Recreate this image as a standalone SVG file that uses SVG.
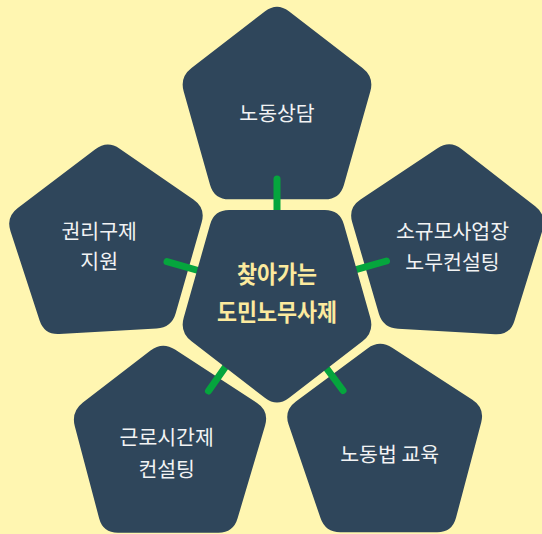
<svg xmlns="http://www.w3.org/2000/svg" width="542" height="534" viewBox="0 0 542 534">
<style>
.pent{fill:#2f465b}
.lbl{font-family:"Noto Sans CJK KR","Noto Sans",sans-serif;font-size:20.5px;fill:#f2f3f4;text-anchor:middle}
.ctr{font-family:"Noto Sans CJK KR","Noto Sans",sans-serif;font-size:24px;font-weight:700;fill:#fcea9e;text-anchor:middle}
.conn{stroke:#05a53d;stroke-width:7;stroke-linecap:round;fill:none}
</style>
<rect width="542" height="534" fill="#fff6b1"/>
<g id="node-top">
<path class="pent" d="M288.9,11.3 L362.5,68 Q374.4,77.2 370.3,91.6 L343.9,184.9 Q339.8,199.3 324.8,199.3 L229.2,199.3 Q214.2,199.3 210.1,184.9 L183.7,91.6 Q179.6,77.2 191.5,68 L265.1,11.3 Q277,2.1 288.9,11.3Z"/>
<text class="lbl" x="277" y="121">노동상담</text>
</g>
<g id="node-left">
<path class="pent" d="M119.7,148.7 L193.4,199.4 Q205.8,207.9 201.7,222.3 L175.7,313.3 Q171.6,327.7 156.6,328.5 L59.3,334 Q44.3,334.8 39.6,320.5 L10.5,231.2 Q5.8,216.9 17.8,207.9 L95.3,149.3 Q107.3,140.2 119.7,148.7Z"/>
<text class="lbl" x="99.2" y="239.3">권리구제</text>
<text class="lbl" x="99.2" y="269.3">지원</text>
</g>
<g id="node-right">
<path class="pent" d="M461.8,149.2 L535.2,206.3 Q547,215.5 542.6,229.8 L514.4,320.9 Q510,335.2 495,334.3 L398,328.7 Q383,327.8 378.8,313.4 L352.2,222.3 Q348,207.9 360.5,199.6 L437.5,148.3 Q450,140 461.8,149.2Z"/>
<text class="lbl" x="452.5" y="239.3">소규모사업장</text>
<text class="lbl" x="452.5" y="269.8">노무컨설팅</text>
</g>
<g id="node-bottom-left">
<path class="pent" d="M175,349.5 L256.7,402.8 Q269.3,411 265.1,425.4 L237.6,518.3 Q233.4,532.7 218.4,532.7 L117.9,532.7 Q102.9,532.7 99.1,518.2 L74.8,426.3 Q71,411.8 82.9,402.6 L150.5,350.5 Q162.4,341.3 175,349.5Z"/>
<text class="lbl" x="166.7" y="445.3">근로시간제</text>
<text class="lbl" x="166.7" y="477.3">컨설팅</text>
</g>
<g id="node-bottom-right">
<path class="pent" d="M392.2,347.8 L472.4,399.8 Q485,408 481.2,422.5 L456,517.8 Q452.2,532.3 437.2,532.3 L340.3,532.3 Q325.3,532.3 320.5,518.1 L288.6,424.6 Q283.8,410.4 295.9,401.5 L367.5,348.5 Q379.6,339.6 392.2,347.8Z"/>
<text class="lbl" x="389.7" y="462.3">노동법 교육</text>
</g>
<g id="connectors">
<line class="conn" x1="277" y1="179" x2="277" y2="225"/>
<line class="conn" x1="167" y1="261.7" x2="205.2" y2="272.5"/>
<line class="conn" x1="386.5" y1="261" x2="348" y2="271.8"/>
<line class="conn" x1="208.5" y1="391" x2="231.3" y2="358.5"/>
<line class="conn" x1="343" y1="390.5" x2="319.3" y2="358.5"/>
</g>
<g id="node-center">
<path class="pent" d="M288.9,398 L362.5,341.3 Q374.4,332.1 370.3,317.7 L343.9,224.4 Q339.8,210 324.8,210 L229.2,210 Q214.2,210 210.1,224.4 L183.7,317.7 Q179.6,332.1 191.5,341.3 L265.1,398 Q277,407.2 288.9,398Z"/>
<text class="ctr" x="277" y="283" textLength="80" lengthAdjust="spacingAndGlyphs">찾아가는</text>
<text class="ctr" x="277" y="320.5" textLength="120" lengthAdjust="spacingAndGlyphs">도민노무사제</text>
</g>
</svg>
